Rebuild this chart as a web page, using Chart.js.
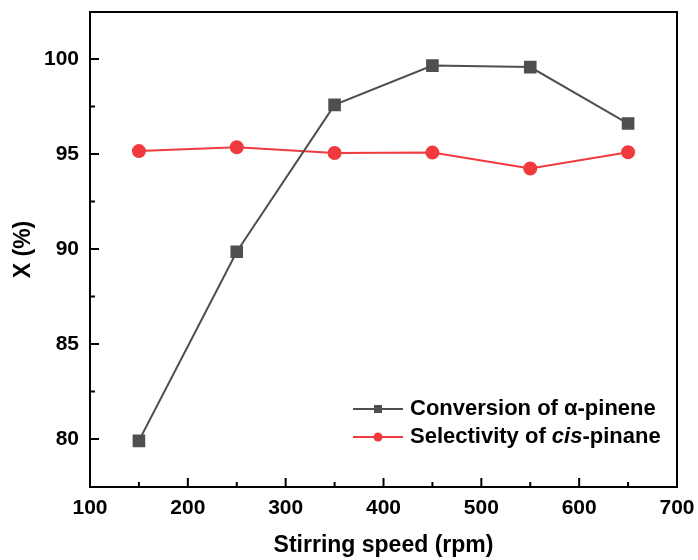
<!DOCTYPE html>
<html>
<head>
<meta charset="utf-8">
<script src="https://cdn.jsdelivr.net/npm/chart.js@4"></script>
<style>
  html, body { margin: 0; padding: 0; background: #fff; }
</style>
</head>
<body>
<canvas id="chart" width="698" height="560"></canvas>
<script>
// stirring speed data
const speeds = [150, 250, 350, 450, 550, 650];
const conversion = [79.9, 89.85, 97.58, 99.65, 99.57, 96.6];
const selectivity = [95.15, 95.35, 95.05, 95.07, 94.23, 95.09];
const xTicks = [100, 200, 300, 400, 500, 600, 700];
const xMinor = [150, 250, 350, 450, 550, 650];
const yTicks = [80, 85, 90, 95, 100];
const yMinor = [82.5, 87.5, 92.5, 97.5];

const FONT = '"Liberation Sans", Arial, sans-serif';
const GREY = "#4f4f4f";
const RED = "#f03a3d";

// frame, inward ticks, axis titles and legend
const framePlugin = {
    id: "frame",
    afterDraw(chart) {
        const { ctx, chartArea: a, scales: { x, y } } = chart;
        ctx.save();
        ctx.strokeStyle = "#000";
        ctx.lineWidth = 2;
        ctx.strokeRect(a.left, a.top, a.right - a.left, a.bottom - a.top);

        ctx.beginPath();
        xTicks.forEach(v => { const p = x.getPixelForValue(v); ctx.moveTo(p, a.bottom); ctx.lineTo(p, a.bottom - 9); });
        xMinor.forEach(v => { const p = x.getPixelForValue(v); ctx.moveTo(p, a.bottom); ctx.lineTo(p, a.bottom - 5); });
        yTicks.forEach(v => { const p = y.getPixelForValue(v); ctx.moveTo(a.left, p); ctx.lineTo(a.left + 9, p); });
        yMinor.forEach(v => { const p = y.getPixelForValue(v); ctx.moveTo(a.left, p); ctx.lineTo(a.left + 5, p); });
        ctx.stroke();

        // axis titles
        ctx.fillStyle = "#000";
        ctx.font = "bold 23px " + FONT;
        ctx.textAlign = "center";
        ctx.textBaseline = "middle";
        ctx.fillText("Stirring speed (rpm)", (a.left + a.right) / 2, 546);
        ctx.save();
        ctx.translate(24, (a.top + a.bottom) / 2);
        ctx.rotate(-Math.PI / 2);
        ctx.fillText("X (%)", 0, 0);
        ctx.restore();

        // legend
        const rows = [
            { color: GREY, style: "rect", y: 409, parts: [["Conversion of \u03b1-pinene", false]] },
            { color: RED, style: "circle", y: 437, parts: [["Selectivity of ", false], ["cis", true], ["-pinane", false]] }
        ];
        rows.forEach(r => {
            ctx.strokeStyle = r.color;
            ctx.fillStyle = r.color;
            ctx.lineWidth = 2;
            ctx.beginPath();
            ctx.moveTo(353, r.y);
            ctx.lineTo(403, r.y);
            ctx.stroke();
            if (r.style === "rect") {
                ctx.fillRect(374, r.y - 4, 8, 8);
            } else {
                ctx.beginPath();
                ctx.arc(378, r.y, 4.5, 0, Math.PI * 2);
                ctx.fill();
            }
            ctx.fillStyle = "#000";
            ctx.textAlign = "left";
            let tx = 410;
            r.parts.forEach(([txt, it]) => {
                ctx.font = (it ? "italic " : "") + "bold 22px " + FONT;
                ctx.fillText(txt, tx, r.y);
                tx += ctx.measureText(txt).width;
            });
        });
        ctx.restore();
    }
};

const ctx = document.getElementById("chart");
new Chart(ctx, {
    type: "line",
    data: {
        datasets: [
            {
                label: "Conversion of \u03b1-pinene",
                data: speeds.map((s, i) => ({ x: s, y: conversion[i] })),
                borderColor: GREY,
                backgroundColor: GREY,
                borderWidth: 2,
                pointStyle: "rect",
                pointRadius: 7.5,
                pointHoverRadius: 7.5
            },
            {
                label: "Selectivity of cis-pinane",
                data: speeds.map((s, i) => ({ x: s, y: selectivity[i] })),
                borderColor: RED,
                backgroundColor: RED,
                borderWidth: 2,
                pointStyle: "circle",
                pointRadius: 6,
                pointHoverRadius: 6
            }
        ]
    },
    options: {
        responsive: false,
        animation: false,
        devicePixelRatio: 1,
        layout: { padding: { left: 0, right: 21, top: 12, bottom: 0 } },
        plugins: {
            legend: { display: false },
            tooltip: { enabled: false }
        },
        scales: {
            x: {
                type: "linear",
                min: 100,
                max: 700,
                grid: { display: false },
                border: { display: false },
                afterBuildTicks: s => { s.ticks = xTicks.map(v => ({ value: v })); },
                afterFit: s => { s.height = 73; s.paddingLeft = 0; s.paddingRight = 0; },
                ticks: {
                    color: "#000",
                    padding: 1,
                    maxRotation: 0,
                    font: { family: FONT, size: 21, weight: "bold" }
                }
            },
            y: {
                min: 77.47,
                max: 102.47,
                grid: { display: false },
                border: { display: false },
                afterBuildTicks: s => { s.ticks = yTicks.map(v => ({ value: v })); },
                afterFit: s => { s.width = 90; s.paddingTop = 0; s.paddingBottom = 0; },
                ticks: {
                    color: "#000",
                    padding: 3,
                    font: { family: FONT, size: 21, weight: "bold" }
                }
            }
        }
    },
    plugins: [framePlugin]
});
</script>
</body>
</html>
